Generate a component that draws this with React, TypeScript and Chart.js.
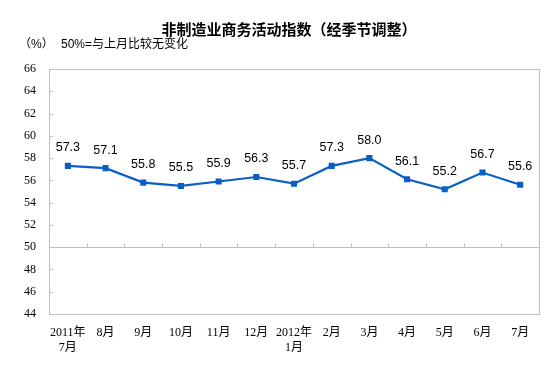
import React, { useEffect, useRef } from "react";
import { Chart, registerables } from "chart.js";

Chart.register(...registerables);

const TITLE = "非制造业商务活动指数（经季节调整）";
const UNIT = "（%）";
const NOTE = "50%=与上月比较无变化";
const categories: (string | string[])[] = [
  ["2011年", "7月"], "8月", "9月", "10月", "11月", "12月",
  ["2012年", "1月"], "2月", "3月", "4月", "5月", "6月", "7月",
];
const values = [57.3, 57.1, 55.8, 55.5, 55.9, 56.3, 55.7, 57.3, 58.0, 56.1, 55.2, 56.7, 55.6];
const yMin = 44;
const yMax = 66;
const yStep = 2;
const baseline = 50;

const BLUE = "#0A5FC6";
const GRAY = "#BFBFBF";
const SANS = "'Liberation Sans', 'Noto Sans CJK SC', sans-serif";
const SERIF = "'Liberation Serif', 'Noto Sans CJK SC', serif";

const decor = {
  id: "decor",
  afterDatasetsDraw(chart: any) {
    const { ctx, chartArea: a, scales } = chart;
    const y = scales.y;
    const x = scales.x;
    ctx.save();
    ctx.strokeStyle = GRAY;
    ctx.lineWidth = 1;
    // border
    ctx.strokeRect(Math.round(a.left) + 0.5, Math.round(a.top) + 0.5, Math.round(a.right - a.left), Math.round(a.bottom - a.top));
    // y tick marks inside
    ctx.beginPath();
    for (let v = yMin; v <= yMax; v += yStep) {
      const py = Math.round(y.getPixelForValue(v)) + 0.5;
      ctx.moveTo(a.left, py);
      ctx.lineTo(a.left + 4, py);
    }
    // baseline at 50
    const by = Math.round(y.getPixelForValue(baseline)) + 0.5;
    ctx.moveTo(a.left, by);
    ctx.lineTo(a.right, by);
    // category tick marks
    const n = categories.length;
    const w = (a.right - a.left) / n;
    for (let i = 1; i < n; i++) {
      const px = Math.round(a.left + i * w) + 0.5;
      ctx.moveTo(px, by);
      ctx.lineTo(px, by - 4);
    }
    ctx.stroke();
    ctx.restore();
  },
  afterDraw(chart: any) {
    const { ctx, scales } = chart;
    const meta = chart.getDatasetMeta(0);
    ctx.save();
    ctx.fillStyle = "#000";
    ctx.textAlign = "center";
    ctx.textBaseline = "middle";
    ctx.font = `12.5px ${SANS}`;
    meta.data.forEach((pt: any, i: number) => {
      ctx.fillText(values[i].toFixed(1), pt.x, pt.y - 18);
    });
    ctx.font = `bold 15px 'Noto Sans CJK SC', sans-serif`;
    ctx.fillText(TITLE, 289, 29);
    ctx.textAlign = "left";
    ctx.font = `12px ${SANS}`;
    ctx.fillText(UNIT, 19, 45);
    ctx.fillText(NOTE, 61, 45);
    ctx.restore();
  },
};

export default function App() {
  const ref = useRef<HTMLCanvasElement>(null);
  useEffect(() => {
    const chart = new Chart(ref.current!, {
      type: "line",
      data: {
        labels: categories,
        datasets: [
          {
            data: values,
            borderColor: BLUE,
            backgroundColor: BLUE,
            borderWidth: 2.2,
            pointStyle: "rect",
            pointRadius: 4.3,
            pointBorderWidth: 0,
            pointBackgroundColor: BLUE,
            tension: 0,
          },
        ],
      },
      options: {
        responsive: false,
        animation: false,
        devicePixelRatio: 1,
        layout: { padding: { top: 69, right: 18, left: 0, bottom: 0 } },
        plugins: { legend: { display: false }, tooltip: { enabled: false }, title: { display: false } },
        scales: {
          x: {
            offset: true,
            grid: { display: false, drawTicks: false },
            border: { display: false },
            ticks: {
              color: "#000",
              font: { family: SERIF, size: 12, lineHeight: 1.25 },
              padding: 11,
              maxRotation: 0,
              autoSkip: false,
            },
            afterFit: (s: any) => { s.height = 69; },
          },
          y: {
            min: yMin,
            max: yMax,
            grid: { display: false, drawTicks: false },
            border: { display: false },
            ticks: {
              stepSize: yStep,
              color: "#000",
              font: { family: SERIF, size: 12 },
              padding: 13,
            },
            afterFit: (s: any) => { s.width = 49; },
          },
        },
      },
      plugins: [decor],
    });
    return () => chart.destroy();
  }, []);
  return (
    <div style={{ position: "absolute", left: 0, top: 0, width: 557, height: 383, background: "#fff" }}>
      <canvas ref={ref} width={557} height={383} />
    </div>
  );
}
